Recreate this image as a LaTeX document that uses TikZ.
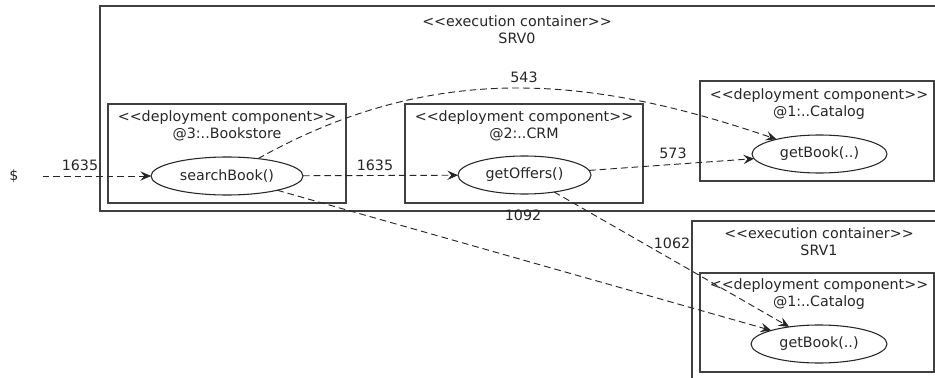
\documentclass[tikz,border=0pt]{standalone}
\usepackage{fontspec}
\setmainfont{DejaVu Sans}
\usetikzlibrary{shapes.geometric,arrows.meta}
\begin{document}
\begin{tikzpicture}[x=0.75pt,y=-0.75pt,
  every node/.style={font=\fontsize{10.7}{12.75}\selectfont, text=black!85, inner sep=0pt, outer sep=0pt},
  box/.style={draw=black!75, line width=0.8pt, anchor=north west},
  op/.style={ellipse, draw=black!85, line width=0.8pt, minimum height={38*0.75pt}},
  call/.style={draw=black!85, line width=0.7pt, dash pattern=on 5pt off 3pt, -{Stealth[length=8pt,width=7pt,inset=3pt]}},
  title/.style={align=center}
]
\useasboundingbox (0,0) rectangle (935,378);
\clip (0,0) rectangle (935,378);
% containers
\node[box, minimum width={850*0.75pt}, minimum height={205*0.75pt}] (srv0) at (100,6) {};
\node[box, minimum width={238*0.75pt}, minimum height={99*0.75pt}] (bsbox) at (108,104) {};
\node[box, minimum width={238*0.75pt}, minimum height={99*0.75pt}] (crmbox) at (405,104) {};
\node[box, minimum width={234*0.75pt}, minimum height={100*0.75pt}] (cat0box) at (700,81) {};
\node[box, minimum width={260*0.75pt}, minimum height={200*0.75pt}] (srv1) at (692,221) {};
\node[box, minimum width={234*0.75pt}, minimum height={99*0.75pt}] (cat1box) at (700,273) {};
% titles
\node[title] (t0) at (517,29.5) {<{}<execution container>{}>\\SRV0};
\node[title] (tbs) at (227,126) {<{}<deployment component>{}>\\@3:..Bookstore};
\node[title] (tcrm) at (524,126) {<{}<deployment component>{}>\\@2:..CRM};
\node[title] (tcat0) at (819,104.5) {<{}<deployment component>{}>\\@1:..Catalog};
\node[title] (t1) at (819,242) {<{}<execution container>{}>\\SRV1};
\node[title] (tcat1) at (819,294) {<{}<deployment component>{}>\\@1:..Catalog};
% operations
\node[op, minimum width={152*0.75pt}] (sb) at (227,176) {searchBook()};
\node[op, minimum width={133*0.75pt}] (go) at (524.5,175) {getOffers()};
\node[op, minimum width={135*0.75pt}] (gb0) at (819.5,154) {getBook(..)};
\node[op, minimum width={136*0.75pt}] (gb1) at (819,344) {getBook(..)};
\node (dollar) at (14,176) {\$};
% calls
\draw[call, shorten <=18pt] (dollar) -- (sb);
\draw[call] (sb) -- (go);
\draw[call] (go) -- (gb0);
\draw[call] (sb) .. controls (438,58) and (597,78) .. (gb0);
\draw[call] (sb) -- (gb1);
\draw[call] (go) -- (gb1);
% labels
\node (l1) at (80,165) {1635};
\node (l2) at (375,165) {1635};
\node (l3) at (524,77) {543};
\node (l4) at (673,153) {573};
\node (l5) at (523,215) {1092};
\node (l6) at (672,243) {1062};
\end{tikzpicture}
\end{document}
